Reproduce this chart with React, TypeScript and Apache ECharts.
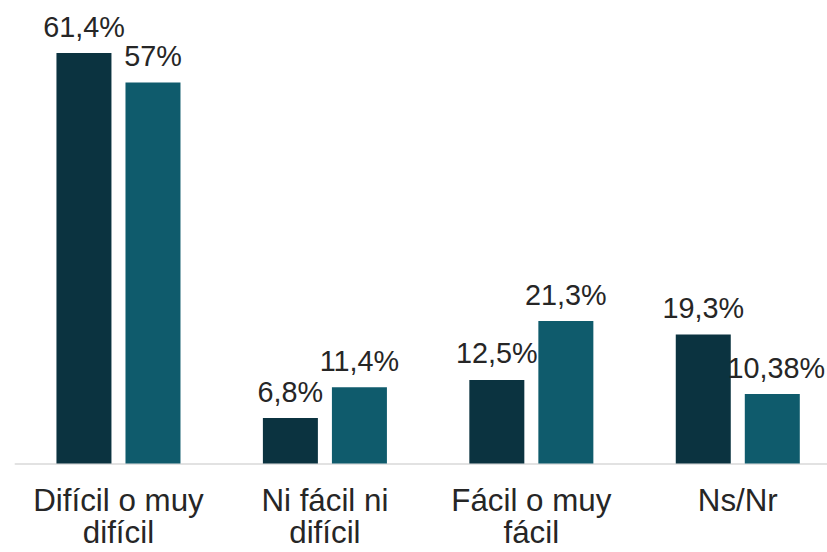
import React, { useEffect, useRef } from "react";
import * as echarts from "echarts";

const categories = ["Difícil o muy\ndifícil", "Ni fácil ni\ndifícil", "Fácil o muy\nfácil", "Ns/Nr"];
const seriesA = [61.4, 6.8, 12.5, 19.3];
const seriesB = [57, 11.4, 21.3, 10.38];
const labelsA = ["61,4%", "6,8%", "12,5%", "19,3%"];
const labelsB = ["57%", "11,4%", "21,3%", "10,38%"];

export default function App() {
  const ref = useRef<HTMLDivElement>(null);
  useEffect(() => {
    if (!ref.current) return;
    const chart = echarts.init(ref.current, null, { renderer: "svg" });
    const font = "'Liberation Sans', Arial, sans-serif";
    const labelStyle = {
      show: true,
      position: "top",
      distance: 12,
      fontSize: 28.8,
      fontFamily: font,
      color: "#262626",
    };
    chart.setOption({
      animation: false,
      grid: { left: 15.25, right: 0, top: 29, bottom: 88.5, containLabel: false },
      xAxis: {
        type: "category",
        data: categories,
        axisLine: { show: true, lineStyle: { color: "#d9d9d9", width: 1.5 } },
        axisTick: { show: false },
        axisLabel: {
          fontSize: 31.3,
          fontFamily: font,
          color: "#262626",
          lineHeight: 32,
          margin: 21,
          interval: 0,
        },
      },
      yAxis: {
        type: "value",
        min: 0,
        max: 65,
        show: false,
        splitLine: { show: false },
      },
      series: [
        {
          type: "bar",
          data: seriesA.map((v, i) => ({ value: v, label: { formatter: labelsA[i] } })),
          barWidth: 55,
          barGap: "25.5%",
          itemStyle: { color: "#0B3340" },
          label: labelStyle,
        },
        {
          type: "bar",
          data: seriesB.map((v, i) => ({
            value: v,
            label: i === 3 ? { formatter: labelsB[i], offset: [4, 0] } : { formatter: labelsB[i] },
          })),
          barWidth: 55,
          itemStyle: { color: "#0F5B6C" },
          label: labelStyle,
        },
      ],
    });
    return () => chart.dispose();
  }, []);
  return (
    <div
      style={{
        width: 827,
        height: 552,
        position: "absolute",
        left: 0,
        top: 0,
        overflow: "hidden",
      }}
    >
      <div ref={ref} style={{ width: 841, height: 552 }} />
    </div>
  );
}
